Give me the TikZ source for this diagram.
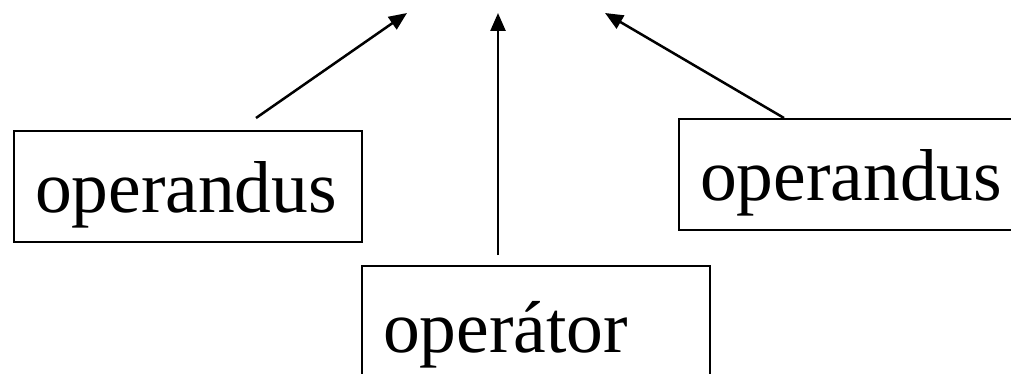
\documentclass[tikz,border=0pt]{standalone}
\usepackage{fontspec}
\setmainfont{Liberation Serif}
\usetikzlibrary{arrows.meta}
\tikzset{
  >={Triangle[length=18pt,width=15pt]},
  opbox/.style={draw,line width=2pt,text width=306pt,align=left,
    inner xsep=21pt,inner ysep=0pt,text height=#1,text depth=30pt,
    font=\fontsize{73.5}{80}\selectfont},
  opbox/.default=81pt,
  flow/.style={->,line width=2.5pt},
}
\begin{document}
\begin{tikzpicture}[x=1pt,y=1pt]
  \useasboundingbox (0,0) rectangle (1011,373);
  % the three parts of an expression
  \node[opbox] (lop) at (188,186.5) {operandus};
  \node[opbox] (rop) at (853,198.5) {operandus};
  \node[opbox=86pt] (op) at (536,49) {operátor};
  % arrow tips
  \coordinate (tl) at (407,360);
  \coordinate (tm) at (498,360);
  \coordinate (tr) at (605,360);
  \draw[flow] ([xshift=68pt,yshift=12pt]lop.north) -- (tl);
  \draw[flow] ([xshift=-38pt,yshift=10pt]op.north) -- (tm);
  \draw[flow] ([xshift=-69pt]rop.north) -- (tr);
\end{tikzpicture}
\end{document}
